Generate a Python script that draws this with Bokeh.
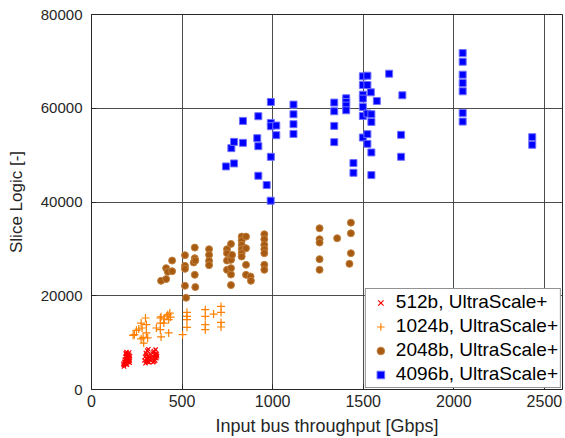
from bokeh.plotting import figure
from bokeh.embed import file_html
from bokeh.resources import INLINE
from bokeh.models import FixedTicker

# ---- data ----
x_512 = [178, 182, 185, 188, 190, 192, 195, 198, 200, 203, 205, 208, 210, 213, 180,
         187, 193, 197, 202, 207, 211, 184, 189, 196, 199, 204, 209, 176, 191, 201,
         292, 296, 300, 304, 308, 312, 316, 320, 324, 298, 306, 314, 322, 302, 318,
         338, 342, 346, 350, 354, 358, 362, 340, 348, 356, 344, 352, 360, 336, 310]
y_512 = [5200, 5900, 6400, 7000, 5600, 7600, 6200, 6800, 7300, 5800, 6600, 7900, 6100, 7100, 4900,
         5400, 8000, 6000, 6900, 7400, 5700, 6300, 7700, 5300, 6500, 7200, 6700, 5500, 6900, 6100,
         6200, 7000, 7800, 6500, 8300, 5900, 7200, 6800, 7600, 5600, 6000, 8600, 6300, 7400, 5800,
         6400, 7900, 6000, 7300, 8500, 6700, 7100, 5800, 6900, 7700, 8200, 6200, 7500, 7000, 6600]

x_1024 = [230, 237, 248, 261, 274, 279, 285, 288, 274, 298, 303, 303, 310, 358, 380,
          380, 380, 384, 384, 399, 402, 417, 421, 426, 426, 432, 436, 503, 527, 527,
          527, 527, 628, 628, 628, 628, 674, 715, 715, 715, 715]
y_1024 = [11560, 11700, 12620, 12910, 14180, 13120, 11130, 9910, 10780, 15250, 13830, 12060, 11000, 13120, 15250,
          14180, 12770, 11210, 15500, 14180, 15040, 15670, 15960, 14890, 12060, 16310, 15460, 11700, 16460, 15600,
          14890, 13260, 17020, 15600, 13830, 12770, 16100, 17730, 16450, 14320, 13330]

x_2048 = [384, 412, 412, 421, 445, 445, 516, 516, 516, 516, 522, 564, 570, 573, 570,
          570, 573, 649, 649, 649, 649, 748, 748, 748, 748, 770, 770, 770, 770, 770,
          770, 776, 829, 829, 829, 829, 829, 829, 853, 853, 853, 853, 878, 880, 954,
          954, 954, 954, 954, 954, 954, 1259, 1259, 1259, 1259, 1259, 1356, 1432, 1432, 1432,
          1424]
y_2048 = [23190, 23550, 25890, 25110, 25250, 27510, 28650, 26380, 25740, 22130, 19570, 27090, 28010, 27510, 30280,
          24470, 21850, 29930, 28720, 27450, 26530, 29930, 29080, 27510, 25530, 31060, 28370, 27660, 25890, 24540,
          22270, 28720, 32620, 31770, 30850, 29930, 29080, 28370, 32620, 30140, 26600, 24470, 24110, 23190, 33120,
          32060, 30850, 29930, 29080, 26600, 25530, 34400, 32060, 31340, 27810, 25530, 32270, 35600, 33330, 29080,
          26810]

x_4096 = [742, 772, 787, 787, 836, 836, 915, 921, 921, 921, 967, 989, 990, 990, 990,
          990, 1020, 1020, 1115, 1115, 1115, 1115, 1340, 1340, 1340, 1340, 1406, 1406, 1406, 1406,
          1446, 1446, 1498, 1523, 1498, 1523, 1542, 1498, 1498, 1575, 1498, 1498, 1523, 1545, 1545,
          1498, 1523, 1523, 1545, 1545, 1643, 1716, 1709, 1709, 2049, 2049, 2049, 2049, 2049, 2049,
          2049, 2433, 2433]
y_4096 = [47590, 51490, 52830, 48230, 57300, 52620, 53620, 58300, 51910, 45600, 43620, 40280, 49640, 61340, 56870,
          56170, 56310, 54260, 60780, 58720, 56600, 54530, 61210, 59360, 56240, 52770, 62130, 61340, 60570, 59570,
          48300, 46230, 66810, 66950, 64960, 64960, 63400, 62900, 62060, 61560, 60280, 58370, 58870, 58720, 57090,
          53760, 54470, 52410, 50570, 45740, 67370, 62770, 54330, 49650, 71770, 69930, 67160, 65390, 63620, 59010,
          57160, 53830, 52200]

labels = ["512b, UltraScale+", "1024b, UltraScale+", "2048b, UltraScale+", "4096b, UltraScale+"]
x_ticks = [0, 500, 1000, 1500, 2000, 2500]
y_ticks = [0, 20000, 40000, 60000, 80000]

FONT = "Liberation Sans"
TXT = "#262626"

p = figure(width=565, height=438, x_range=(0, 2600), y_range=(0, 80000),
           output_backend="svg", toolbar_location=None,
           min_border_left=91, min_border_right=3, min_border_top=14, min_border_bottom=48)

p.scatter(x_512, y_512, marker="x", size=6, line_color="#FF0000", line_width=1.2,
          legend_label=labels[0])
p.scatter(x_1024, y_1024, marker="cross", size=8, line_color="#FF8000", line_width=1.2,
          legend_label=labels[1])
p.scatter(x_2048, y_2048, marker="circle", size=7, fill_color="#A65A12", line_color="#C0823F",
          line_width=1, legend_label=labels[2])
p.scatter(x_4096, y_4096, marker="square", size=7, fill_color="#0000FF", line_color="#6F6FFF",
          line_width=1, legend_label=labels[3])

p.xaxis.ticker = FixedTicker(ticks=x_ticks)
p.yaxis.ticker = FixedTicker(ticks=y_ticks)
p.xaxis.axis_label = "Input bus throughput [Gbps]"
p.yaxis.axis_label = "Slice Logic [-]"

for ax in (p.xaxis, p.yaxis):
    ax.axis_label_text_font = FONT
    ax.axis_label_text_font_style = "normal"
    ax.axis_label_text_color = TXT
    ax.major_label_text_font = FONT
    ax.major_label_text_color = TXT
    ax.axis_line_color = TXT
    ax.major_tick_line_color = TXT
    ax.major_tick_in = 5
    ax.major_tick_out = 0
    ax.minor_tick_line_color = None
p.xaxis.major_label_text_font_size = "16px"
p.yaxis.major_label_text_font_size = "15px"
p.xaxis.major_label_standoff = 5
p.yaxis.major_label_standoff = 9
p.xaxis.axis_label_text_font_size = "18px"
p.yaxis.axis_label_text_font_size = "17px"
p.xaxis.axis_label_standoff = 6
p.yaxis.axis_label_standoff = 12

p.grid.grid_line_color = "#383838"
p.grid.grid_line_alpha = 0.9
p.grid.grid_line_width = 1
p.outline_line_color = TXT
p.outline_line_alpha = 1

lg = p.legend[0]
lg.location = "bottom_right"
lg.margin = 1
lg.padding = 2
lg.spacing = 2
lg.label_height = 19
lg.glyph_height = 19
lg.glyph_width = 25
lg.label_standoff = 3
lg.label_text_font = FONT
lg.label_text_font_size = "19px"
lg.label_text_color = "#000000"
lg.border_line_color = TXT
lg.border_line_width = 1
lg.background_fill_color = "white"
lg.background_fill_alpha = 1

open("out.html", "w").write(file_html(p, INLINE))
